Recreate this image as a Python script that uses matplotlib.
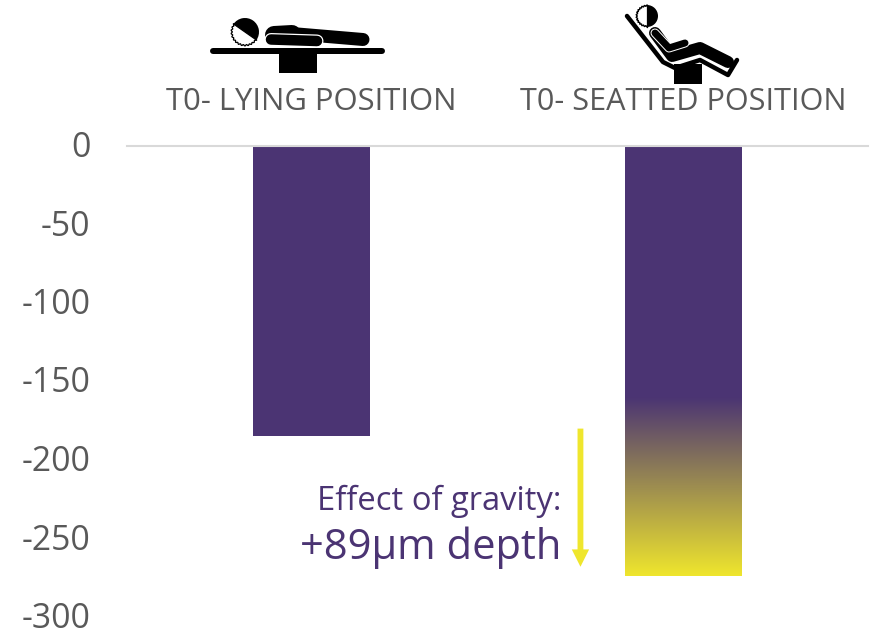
import numpy as np
import matplotlib
matplotlib.use("Agg")
import matplotlib.pyplot as plt
from matplotlib.patches import Wedge, Rectangle
from matplotlib.transforms import ScaledTranslation

plt.rcParams['font.family'] = ['Open Sans', 'DejaVu Sans']
plt.rcParams['axes.unicode_minus'] = False

categories = ['T0- LYING POSITION', 'T0- SEATTED POSITION']
depth = [-185, -274]
gravity_effect = 89
y_ticks = [0, -50, -100, -150, -200, -250, -300]
fade_start = -160

PURPLE = '#4B3473'
YELLOW = '#EFE62D'
GREY = '#595959'

W, H = 889, 633
fig = plt.figure(figsize=(W / 100, H / 100), dpi=100)
ax = fig.add_axes([127 / W, 1 - 617 / H, 741 / W, 471 / H])

bars = ax.bar(range(2), depth, width=0.3145, color=PURPLE)
ax.set_yticks(y_ticks)
ax.set_xticks([])
ax.tick_params(axis='y', length=0, pad=26.5, labelsize=24.3, labelcolor=GREY)
# nudge the tick labels up so the digits sit level with their ticks
nudge = ScaledTranslation(0, 2 / 100, fig.dpi_scale_trans)
for lab in ax.get_yticklabels():
    lab.set_transform(lab.get_transform() + nudge)
for s in ['left', 'right', 'bottom']:
    ax.spines[s].set_visible(False)
ax.spines['top'].set_color('#D9D9D9')
ax.spines['top'].set_linewidth(1.5)

# purple to yellow fade at the bottom of the second bar
x0 = bars[1].get_x()
x1 = x0 + bars[1].get_width()
fade = np.linspace(0, 1, 256).reshape(-1, 1)
cmap = matplotlib.colors.LinearSegmentedColormap.from_list('fade', [PURPLE, YELLOW])
im = ax.imshow(fade, cmap=cmap, aspect='auto', origin='upper',
               extent=(x0, x1, depth[1], fade_start), zorder=3)
im.set_clip_path(bars[1])
ax.set_xlim(-0.496, 1.496)
ax.set_ylim(-300, 0)

# arrow between the two depths
ax.annotate('', xy=(0.723, depth[1] + 6), xytext=(0.723, -180),
            arrowprops=dict(width=4.2, headwidth=12.5, headlength=12.5,
                            color=YELLOW, lw=0, shrink=0))

ax.text(0.672, -226.5, 'Effect of gravity:', color=PURPLE, fontsize=23.6,
        ha='right', va='center')
ax.text(0.672, -256, f'+{gravity_effect}µm depth', color=PURPLE, fontsize=30,
        ha='right', va='center')

# overlay in pixel units for the headers and pictograms
ov = fig.add_axes([0, 0, 1, 1], zorder=5)
ov.set_xlim(0, W)
ov.set_ylim(H, 0)
ov.axis('off')

ov.text(311, 102, categories[0], color=GREY, fontsize=22.3, ha='center', va='center')
ov.text(683, 102, categories[1], color=GREY, fontsize=22.1, ha='center', va='center')


def stroke(xs, ys, px, color='black'):
    ov.plot(xs, ys, color=color, lw=px * 0.72, solid_capstyle='round',
            solid_joinstyle='round')


def scalloped_head(cx, cy, r, start, end):
    # dark half plus a white half with a small toothed edge
    # angles are negated since the overlay's y axis points down
    ov.add_patch(Wedge((cx, cy), r, -end, -start, color='black', lw=0))
    a = np.radians(np.linspace(end, start + 360, 60))
    rr = r - 0.7 + 0.7 * np.cos(np.linspace(0, 26 * np.pi, 60))
    ov.plot(cx + rr * np.cos(a), cy - rr * np.sin(a), color='black', lw=0.9)
    ov.plot([cx + r * np.cos(np.radians(start)), cx + r * np.cos(np.radians(end))],
            [cy - r * np.sin(np.radians(start)), cy - r * np.sin(np.radians(end))],
            color='black', lw=0.9)


# lying figure
stroke([213, 382], [51, 51], 6)
ov.add_patch(Rectangle((279, 52), 38, 21, color='black', lw=0))
scalloped_head(245, 32, 14, -35, 145)
stroke([280, 363], [32.5, 39.5], 13)
stroke([274, 292], [35, 34], 18)
stroke([271, 317], [39.5, 41], 13, 'white')
stroke([271, 317], [39.5, 41], 10.5)

# seated figure
stroke([627, 663, 675, 700, 728, 737], [16, 62, 68, 60, 75, 60], 4.5)
ov.add_patch(Rectangle((674, 64), 28, 20, color='black', lw=0))
scalloped_head(647, 16, 11, -90, 90)
stroke([655, 672, 700, 728], [33, 56, 48, 62], 12)
stroke([655, 669, 685], [33, 48, 43], 9, 'white')
stroke([655, 669, 685], [33, 48, 43], 7)

fig.savefig('out.png', dpi=100)
